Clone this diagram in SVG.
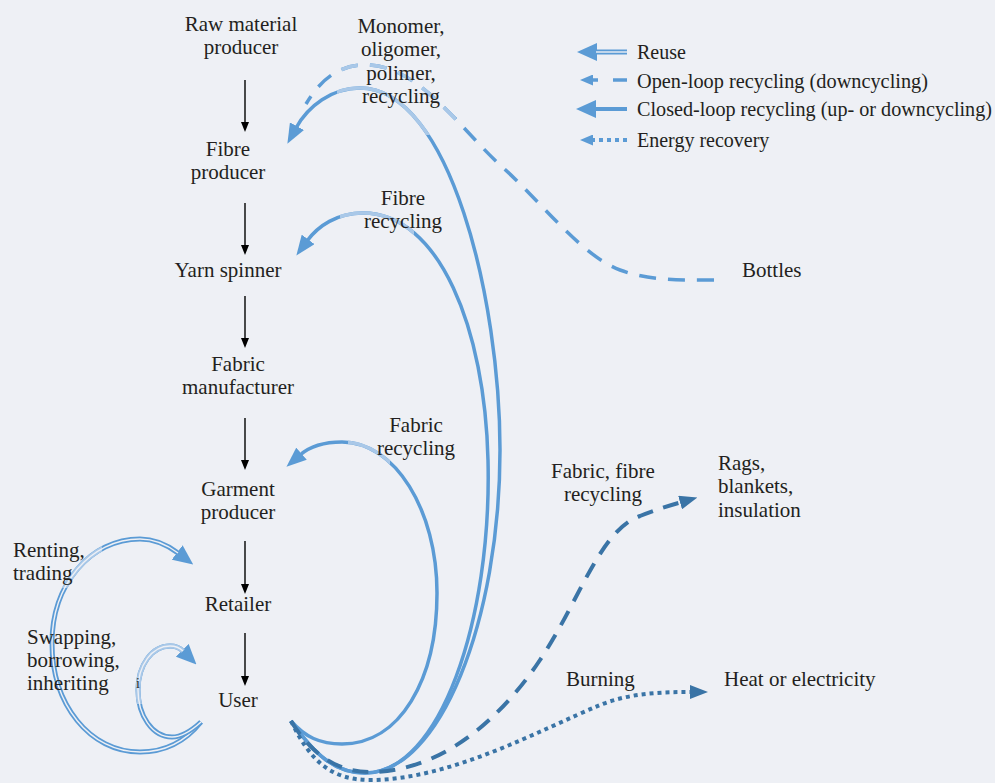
<svg xmlns="http://www.w3.org/2000/svg" width="995" height="783" viewBox="0 0 995 783">
<style>
.t{font-size:21px;fill:#231f20}
.c{text-anchor:middle}
.lg{font-size:20px}
.flow{stroke:#000;stroke-width:1.4;fill:none}
.solid{stroke:#5b9bd5;stroke-width:3.5;fill:none}
.solidL{stroke:#a9c8e8;stroke-width:3.5;fill:none}
.open{stroke:#5b9bd5;stroke-width:3.5;fill:none;stroke-dasharray:17 12}
.openL{stroke:#a9c8e8;stroke-width:3.5;fill:none;stroke-dasharray:17 12}
.darkdash{stroke:#3a74a6;stroke-width:4;fill:none;stroke-dasharray:16 11}
.dot{stroke:#3a74a6;stroke-width:4;fill:none;stroke-dasharray:4 4}
.reuse{stroke:#5b9bd5;stroke-width:5;fill:none}
.reuseL{stroke:#a9c8e8;stroke-width:5;fill:none}
.gap{stroke:#eef0f5;stroke-width:1.4;fill:none}
</style>
<defs>
<marker id="ab" markerUnits="userSpaceOnUse" viewBox="0 0 10 8" refX="1" refY="4" markerWidth="10" markerHeight="8" orient="auto"><path d="M0,0 L10,4 L0,8 z" fill="#000"/></marker>
<marker id="ah" markerUnits="userSpaceOnUse" viewBox="0 0 20 16" refX="2" refY="8" markerWidth="20" markerHeight="16" orient="auto"><path d="M0,0 L20,8 L0,16 z" fill="#5b9bd5"/></marker>
<marker id="ahd" markerUnits="userSpaceOnUse" viewBox="0 0 18 14" refX="2" refY="7" markerWidth="18" markerHeight="14" orient="auto"><path d="M0,0 L18,7 L0,14 z" fill="#3a74a6"/></marker>
<marker id="ahr" markerUnits="userSpaceOnUse" viewBox="0 0 20 18" refX="1" refY="9" markerWidth="20" markerHeight="18" orient="auto"><path d="M0,0 L20,9 L0,18 z" fill="#5b9bd5"/></marker>
<marker id="ahs" markerUnits="userSpaceOnUse" viewBox="0 0 13 11" refX="1" refY="5.5" markerWidth="13" markerHeight="11" orient="auto"><path d="M0,0 L13,5.5 L0,11 z" fill="#5b9bd5"/></marker>
<clipPath id="clMono"><rect x="337" y="55" width="119" height="80"/></clipPath>
<clipPath id="clFibre"><rect x="340" y="195" width="74" height="45"/></clipPath>
<clipPath id="clFabric"><rect x="348" y="425" width="42" height="45"/></clipPath>
<clipPath id="clRent"><rect x="58" y="540" width="44" height="48"/></clipPath>
<clipPath id="clSwap"><rect x="128" y="642" width="58" height="62"/></clipPath>
<path id="pMono" d="M291 721 C315 755 335 773 365 773 C440 773 500 620 500 450 C500 300 450 88 360 88 C332 88 308 106 296 128"/>
<path id="pFibre" d="M291 721 C315 755 335 773 365 773 C440 773 492 620 488 460 C485 330 440 213 363 213 C337 213 318 226 307 241"/>
<path id="pFabric" d="M291 721 C305 737 320 744 342 744 C400 744 437 680 437 593 C437 510 395 442 342 442 C322 442 308 448 300 455"/>
<path id="pOpen" d="M714 280 C680 280 650 281 620 270 C580 255 540 200 500 165 C460 128 420 68 370 65 C340 63 320 80 306 104"/>
<path id="pRent" d="M201 722 C185 742 165 752 140 752 C90 752 52 705 52 643 C52 585 90 539 140 539 C154 539 166 544 178 553"/>
<path id="pSwap" d="M201 722 C190 732 180 737 172 737 C152 737 138 715 138 690 C138 665 152 646 170 646 C175 646 180 648 183 651"/>
</defs>
<rect width="995" height="783" fill="#eef0f5"/>

<g id="connectors">
<line class="flow" x1="245" y1="80" x2="245" y2="123" marker-end="url(#ab)"/>
<line class="flow" x1="245" y1="203" x2="245" y2="246" marker-end="url(#ab)"/>
<line class="flow" x1="245" y1="296" x2="245" y2="339" marker-end="url(#ab)"/>
<line class="flow" x1="245" y1="418" x2="245" y2="461" marker-end="url(#ab)"/>
<line class="flow" x1="245" y1="541" x2="245" y2="585" marker-end="url(#ab)"/>
<line class="flow" x1="245" y1="633" x2="245" y2="677" marker-end="url(#ab)"/>

<g id="open-loop-bottles">
<use href="#pOpen" class="open"/>
<use href="#pOpen" class="openL" clip-path="url(#clMono)"/>
</g>
<g id="monomer-recycling">
<use href="#pMono" class="solid" marker-end="url(#ah)"/>
<use href="#pMono" class="solidL" clip-path="url(#clMono)"/>
</g>
<g id="fibre-recycling">
<use href="#pFibre" class="solid" marker-end="url(#ah)"/>
<use href="#pFibre" class="solidL" clip-path="url(#clFibre)"/>
</g>
<g id="fabric-recycling">
<use href="#pFabric" class="solid" marker-end="url(#ah)"/>
<use href="#pFabric" class="solidL" clip-path="url(#clFabric)"/>
</g>
<g id="fabric-fibre-recycling">
<path class="darkdash" d="M291 721 C310 752 335 772 370 772 C440 772 500 720 540 660 C580 600 600 530 640 516 C655 510 668 506 682 502" marker-end="url(#ahd)"/>
</g>
<g id="burning">
<path class="dot" d="M291 721 C310 760 330 780 370 780 C450 780 540 730 600 705 C630 693 660 692 692 692" marker-end="url(#ahd)"/>
</g>
<g id="renting">
<use href="#pRent" class="reuse" marker-end="url(#ahr)"/>
<use href="#pRent" class="reuseL" clip-path="url(#clRent)"/>
<use href="#pRent" class="gap"/>
</g>
<g id="swapping">
<use href="#pSwap" class="reuse" marker-end="url(#ahr)"/>
<use href="#pSwap" class="reuseL" clip-path="url(#clSwap)"/>
<use href="#pSwap" class="gap"/>
</g>
</g>

<g font-family="'Liberation Serif', 'DejaVu Serif', serif">
<g id="legend">
<line class="reuse" x1="627" y1="52" x2="596" y2="52" marker-end="url(#ahr)"/>
<line class="gap" x1="627" y1="52" x2="596" y2="52"/>
<text class="t lg" x="637" y="59">Reuse</text>
<line class="solid" x1="598" y1="80" x2="592" y2="80" marker-end="url(#ahs)"/>
<line class="solid" x1="613" y1="80" x2="627" y2="80"/>
<text class="t lg" x="637" y="88" textLength="291" lengthAdjust="spacingAndGlyphs">Open-loop recycling (downcycling)</text>
<line class="solid" x1="627" y1="109" x2="595" y2="109" marker-end="url(#ahr)" style="stroke-width:4"/>
<text class="t lg" x="637" y="116" textLength="355" lengthAdjust="spacingAndGlyphs">Closed-loop recycling (up- or downcycling)</text>
<line class="dot" x1="627" y1="140" x2="592" y2="140" marker-end="url(#ahs)" style="stroke:#5b9bd5"/>
<text class="t lg" x="637" y="147">Energy recovery</text>
</g>

<g id="raw-material-producer"><text class="t c" x="241" y="31">Raw material</text><text class="t c" x="241" y="54">producer</text></g>
<g id="fibre-producer"><text class="t c" x="228" y="156">Fibre</text><text class="t c" x="228" y="179">producer</text></g>
<g id="yarn-spinner"><text class="t c" x="228" y="277">Yarn spinner</text></g>
<g id="fabric-manufacturer"><text class="t c" x="238" y="371">Fabric</text><text class="t c" x="238" y="394">manufacturer</text></g>
<g id="garment-producer"><text class="t c" x="238" y="496">Garment</text><text class="t c" x="238" y="519">producer</text></g>
<g id="retailer"><text class="t c" x="238" y="611">Retailer</text></g>
<g id="user"><text class="t c" x="238" y="707">User</text></g>

<g id="label-monomer"><text class="t c" x="401" y="33">Monomer,</text><text class="t c" x="401" y="56">oligomer,</text><text class="t c" x="401" y="80">polimer,</text><text class="t c" x="401" y="103">recycling</text></g>
<g id="label-fibre"><text class="t c" x="403" y="205">Fibre</text><text class="t c" x="403" y="228">recycling</text></g>
<g id="bottles"><text class="t" x="742" y="277">Bottles</text></g>
<g id="label-fabric"><text class="t c" x="416" y="432">Fabric</text><text class="t c" x="416" y="455">recycling</text></g>
<g id="label-fabric-fibre"><text class="t c" x="603" y="478">Fabric, fibre</text><text class="t c" x="603" y="501">recycling</text></g>
<g id="rags"><text class="t" x="718" y="470">Rags,</text><text class="t" x="718" y="493">blankets,</text><text class="t" x="718" y="517">insulation</text></g>
<g id="label-burning"><text class="t" x="566" y="686">Burning</text></g>
<g id="heat"><text class="t" x="724" y="686">Heat or electricity</text></g>
<g id="label-renting"><text class="t" x="13" y="557">Renting,</text><text class="t" x="13" y="580">trading</text></g>
<g id="label-swapping"><text class="t" x="27" y="644">Swapping,</text><text class="t" x="27" y="667">borrowing,</text><text class="t" x="27" y="690">inheriting</text><text class="t" x="136" y="688" style="font-size:14px">i</text></g>
</g>
</svg>
